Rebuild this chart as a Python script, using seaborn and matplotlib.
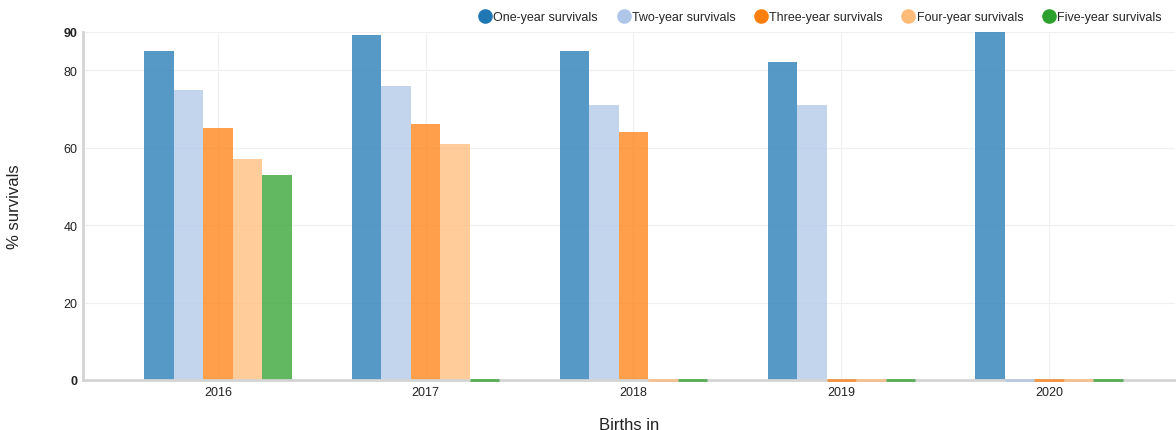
import matplotlib
matplotlib.use("Agg")
import matplotlib.pyplot as plt
import seaborn as sns
import pandas as pd
from matplotlib.lines import Line2D

years = ["2016", "2017", "2018", "2019", "2020"]
series = ["One-year survivals", "Two-year survivals", "Three-year survivals",
          "Four-year survivals", "Five-year survivals"]
one_year = [85, 89, 85, 82, 90]
two_year = [75, 76, 71, 71, 0]
three_year = [65, 66, 64, 0, 0]
four_year = [57, 61, 0, 0, 0]
five_year = [53, 0, 0, 0, 0]
colors = ["#1f77b4", "#aec7e8", "#ff7f0e", "#ffbb78", "#2ca02c"]
yticks = [0, 20, 40, 60, 80, 90]

values = [one_year, two_year, three_year, four_year, five_year]
rows = []
for s, vals in zip(series, values):
    for y, v in zip(years, vals):
        rows.append({"Births in": y, "series": s, "value": v})
df = pd.DataFrame(rows)

sns.set_theme(style="white")
plt.rcParams["font.family"] = ["Liberation Sans", "DejaVu Sans"]

fig = plt.figure(figsize=(11.76, 4.31), dpi=100)
ax = fig.add_axes([83 / 1176, 1 - 381 / 431, (1175 - 83) / 1176, (381 - 32.5) / 431])

sns.barplot(data=df, x="Births in", y="value", hue="series", order=years,
            hue_order=series, palette=colors, width=0.71, alpha=0.75,
            saturation=1, ax=ax, legend=False, errorbar=None)

# zero-valued bars are shown as thin coloured lines on the baseline
for container, col in zip(ax.containers, colors):
    for p in container.patches:
        p.set_linewidth(0)
        if p.get_height() == 0:
            x0 = p.get_x()
            ax.hlines(0, x0, x0 + p.get_width(), colors=col, alpha=0.75,
                      linewidth=2, zorder=3, clip_on=False)

ax.set_xlim(-0.649, 4.606)
ax.set_ylim(0, 90)
ax.set_yticks(yticks)
ax.set_yticklabels([str(t) for t in yticks])
for lbl in ax.get_yticklabels():
    if lbl.get_text() in ("0", "90"):
        lbl.set_fontweight("bold")
ax.tick_params(axis="both", labelsize=9, colors="#222222", length=0, pad=4)

ax.grid(True, axis="both", color="#f0f0f0", linewidth=0.9)
ax.set_axisbelow(True)
for side in ["top", "right"]:
    ax.spines[side].set_visible(False)
ax.spines["left"].set_color("#d4d4d4")
ax.spines["left"].set_linewidth(2)
ax.spines["bottom"].set_color("#d4d4d4")
ax.spines["bottom"].set_linewidth(2)

ax.set_xlabel("Births in", fontsize=12, color="#222222", labelpad=14)
ax.set_ylabel("% survivals", fontsize=12, color="#222222", labelpad=30)

handles = [Line2D([0], [0], marker="o", linestyle="none", markersize=9.5,
                  markerfacecolor=c, markeredgecolor=c) for c in colors]
fig.legend(handles, series, loc="center right", bbox_to_anchor=(0.992, 0.958),
           ncol=5, frameon=False, fontsize=9, handletextpad=0.2,
           columnspacing=1.6, handlelength=0.9, borderaxespad=0)

fig.savefig("out.png", dpi=100)
